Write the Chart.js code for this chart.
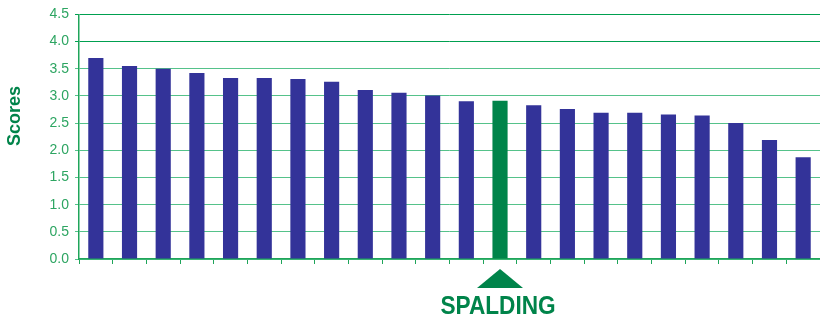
<!DOCTYPE html>
<html>
<head>
<meta charset="utf-8">
<script src="https://cdn.jsdelivr.net/npm/chart.js@4"></script>
<style>
  html, body { margin: 0; padding: 0; background: #fff; }
  #wrap { width: 820px; height: 318px; }
</style>
</head>
<body>
<div id="wrap"><canvas id="grafico"></canvas></div>
<script>
// dados
const escolas = ['A', 'B', 'C', 'D', 'E', 'F', 'G', 'H', 'I', 'J', 'K', 'L', 'SPALDING',
                 'N', 'O', 'P', 'Q', 'R', 'S', 'T', 'U', 'V'];
const pontuacoes = [3.70, 3.55, 3.50, 3.42, 3.33, 3.33, 3.31, 3.26, 3.11, 3.06, 3.01,
                    2.90, 2.91, 2.83, 2.76, 2.69, 2.69, 2.66, 2.64, 2.50, 2.19, 1.87];
const destaque = 'SPALDING';
const tituloY = 'Scores';
const yTicks = [0, 0.5, 1, 1.5, 2, 2.5, 3, 3.5, 4, 4.5];

const azul = '#333399';
const verde = '#00844A';
const verdeTexto = '#2DA562';

const cores = escolas.map(e => e === destaque ? verde : azul);

// título do eixo Y, seta e nome da escola em destaque
const marcaDestaque = {
    id: 'marcaDestaque',
    afterDraw(chart) {
        const ctx = chart.ctx;
        const x = chart.scales.x.getPixelForValue(escolas.indexOf(destaque));
        const y0 = chart.chartArea.bottom;
        ctx.save();
        ctx.fillStyle = verde;
        ctx.beginPath();
        ctx.moveTo(x - 23, y0 + 29);
        ctx.lineTo(x + 23, y0 + 29);
        ctx.lineTo(x, y0 + 10);
        ctx.closePath();
        ctx.fill();
        // texto um pouco comprimido (fonte estreita)
        ctx.font = 'bold 26px "Liberation Sans", Arial, sans-serif';
        ctx.textAlign = 'center';
        ctx.textBaseline = 'alphabetic';
        ctx.translate(x - 2, y0 + 55);
        ctx.scale(0.87, 1);
        ctx.fillText(destaque, 0, 0);
        ctx.restore();

        // título do eixo
        ctx.save();
        ctx.fillStyle = verde;
        ctx.font = 'bold 18px "Liberation Sans", Arial, sans-serif';
        ctx.textAlign = 'center';
        ctx.textBaseline = 'middle';
        ctx.translate(15, 116);
        ctx.rotate(-Math.PI / 2);
        ctx.fillText(tituloY, 0, 0);
        ctx.restore();
    }
};

var ctx = document.getElementById('grafico').getContext('2d');
var grafico = new Chart(ctx, {
    type: 'bar',
    data: {
        labels: escolas,
        datasets: [{
            data: pontuacoes,
            backgroundColor: cores,
            barPercentage: 0.45,
            categoryPercentage: 1
        }]
    },
    options: {
        responsive: true,
        maintainAspectRatio: false,
        animation: false,
        layout: { padding: { top: 6, right: 0, bottom: 54, left: 0 } },
        plugins: {
            legend: { display: false },
            tooltip: { enabled: false }
        },
        scales: {
            x: {
                offset: true,
                border: { color: '#1FA55A', width: 1.5 },
                grid: {
                    offset: true,
                    drawOnChartArea: false,
                    drawTicks: true,
                    tickLength: 5,
                    color: '#1FA55A'
                },
                ticks: { display: false }
            },
            y: {
                min: 0,
                max: 4.5,
                afterBuildTicks: axis => { axis.ticks = yTicks.map(v => ({ value: v })); },
                afterFit: axis => { axis.width = 79; },
                border: { color: '#1FA55A', width: 1.5 },
                grid: {
                    color: ctx => ctx.tick && ctx.tick.value >= 4 ? '#00A050' : '#55C28A',
                    lineWidth: 1,
                    tickLength: 4
                },
                ticks: {
                    color: verdeTexto,
                    font: { family: '"Liberation Sans", Arial, sans-serif', size: 14 },
                    padding: 6,
                    callback: v => v.toFixed(1)
                }
            }
        }
    },
    plugins: [marcaDestaque]
});
</script>
</body>
</html>
